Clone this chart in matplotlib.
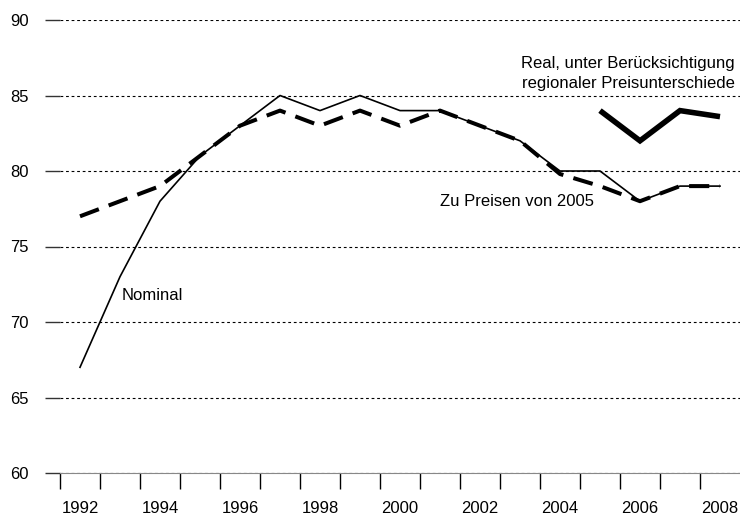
import matplotlib
matplotlib.use("Agg")
import matplotlib.pyplot as plt
import numpy as np

plt.rcParams['font.family'] = ['Liberation Sans', 'DejaVu Sans']

years = list(range(1992, 2009))
nominal = [67, 73, 78, 81, 83, 85, 84, 85, 84, 84, 83, 82, 80, 80, 78, 79, 79]
preise_2005 = [77, 78, 79, 81, 83, 84, 83, 84, 83, 84, 83, 82, 79.8, 79, 78, 79, 79]
real_years = [2005, 2006, 2007, 2008]
real_regional = [84, 82, 84, 83.6]

y_ticks = [60, 65, 70, 75, 80, 85, 90]
x_label_years = list(range(1992, 2009, 2))

fig = plt.figure(figsize=(7.4, 5.15), dpi=100)
ax = fig.add_axes([60/740, 1 - 473/515, 680/740, (473 - 20)/515])

ax.set_xlim(1991.5, 2008.5)
ax.set_ylim(60, 90)

# grid lines
for yv in y_ticks:
    ax.axhline(yv, color='black', lw=0.8, linestyle=(0, (2.5, 2.5)), zorder=1)

ax.plot(years, preise_2005, color='black', lw=2.9, linestyle=(0, (5, 2.6)),
        dash_capstyle='butt', zorder=3)
ax.plot(years, nominal, color='black', lw=1.2, zorder=4)
ax.plot(real_years, real_regional, color='black', lw=4.0, solid_joinstyle='miter',
        solid_capstyle='butt', zorder=5)

for s in ['top', 'right', 'left']:
    ax.spines[s].set_visible(False)
ax.spines['bottom'].set_color('#888888')
ax.spines['bottom'].set_linewidth(0.8)

ax.set_yticks(y_ticks)
ax.set_yticklabels([str(v) for v in y_ticks])
ax.tick_params(axis='y', direction='out', length=10.8, width=1.0, color='#333333',
               pad=11.5, labelsize=12)

ax.set_xticks(x_label_years)
ax.set_xticklabels([str(v) for v in x_label_years])
ax.set_xticks(np.arange(1991.5, 2008.0, 1.0), minor=True)
ax.tick_params(axis='x', which='major', length=0, pad=20, labelsize=12)
ax.tick_params(axis='x', which='minor', direction='out', length=11.5, width=1.0,
               color='black')

ax.text(2008.375, 86.8, "Real, unter Berücksichtigung", ha='right', va='baseline',
        fontsize=12)
ax.text(2008.375, 85.52, "regionaler Preisunterschiede", ha='right', va='baseline',
        fontsize=12)
ax.text(2004.86, 77.68, "Zu Preisen von 2005", ha='right', va='baseline', fontsize=12)
ax.text(1993.05, 71.46, "Nominal", ha='left', va='baseline', fontsize=12)

fig.savefig("out.png", dpi=100)
